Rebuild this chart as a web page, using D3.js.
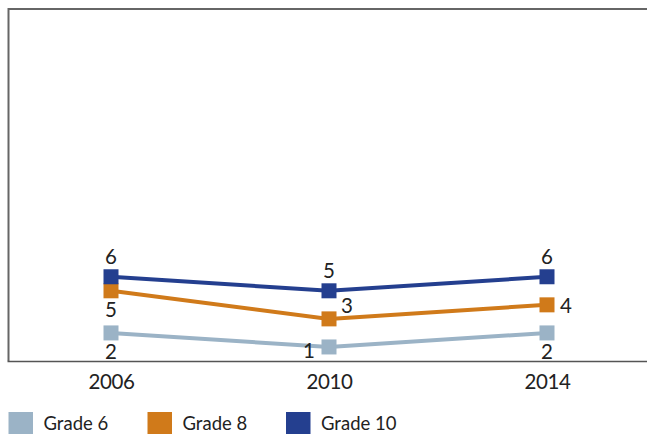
<!DOCTYPE html>
<html>
<head>
<meta charset="utf-8">
<script src="https://cdn.jsdelivr.net/npm/d3@7"></script>
<style>
  html, body { margin: 0; padding: 0; background: #fff; }
  svg { display: block; }
  text { font-family: Lato, "Open Sans", sans-serif; fill: #222; }
</style>
</head>
<body>
<svg id="chart" width="647" height="434"></svg>
<script>
// Survey years along the x axis
const years = ["2006", "2010", "2014"];
// Series per grade
const grade6 = [2, 1, 2];
const grade8 = [5, 3, 4];
const grade10 = [6, 5, 6];
const seriesNames = ["Grade 6", "Grade 8", "Grade 10"];
const seriesColors = ["#9bb3c6", "#d07a1a", "#243f8f"];
// Where each point's value label sits relative to its marker
const labelPos = [
  ["below", "belowLeft", "below"],
  ["below", "aboveRight", "right"],
  ["above", "above", "above"]
];

const series = [grade6, grade8, grade10].map((vals, i) => ({
  name: seriesNames[i], color: seriesColors[i], values: vals, pos: labelPos[i]
}));

const svg = d3.select("#chart");
const plot = { left: 8.5, top: 10, right: 647, bottom: 361 };
const labelFont = 20.5;

const x = d3.scalePoint().domain(years).range([111, 547]);
const y = d3.scaleLinear().domain([0, 25]).range([plot.bottom, plot.top]);

// Frame: left and top borders
svg.append("line").attr("x1", plot.left).attr("x2", plot.left)
  .attr("y1", plot.top).attr("y2", plot.bottom)
  .attr("stroke", "#666").attr("stroke-width", 2);
svg.append("line").attr("x1", plot.left - 1).attr("x2", plot.right)
  .attr("y1", plot.top - 1).attr("y2", plot.top - 1)
  .attr("stroke", "#666").attr("stroke-width", 2);

// X axis with year labels, no tick marks
const xAxis = svg.append("g").attr("transform", `translate(0,${plot.bottom})`)
  .call(d3.axisBottom(x).tickSize(0).tickPadding(13));
xAxis.select(".domain").remove();
xAxis.selectAll("text").attr("font-size", labelFont).attr("letter-spacing", -0.4)
  .style("font-family", "Lato, 'Open Sans', sans-serif").attr("fill", "#222");
svg.append("line").attr("x1", plot.left - 1).attr("x2", plot.right)
  .attr("y1", plot.bottom + 0.5).attr("y2", plot.bottom + 0.5)
  .attr("stroke", "#555").attr("stroke-width", 1.5);

const line = d3.line().x((d, i) => x(years[i])).y(d => y(d));

const g = svg.append("g");
series.forEach(s => {
  g.append("path").datum(s.values).attr("d", line)
    .attr("fill", "none").attr("stroke", s.color).attr("stroke-width", 4);
});
series.forEach(s => {
  const ms = 15;
  g.selectAll(null).data(s.values).join("rect")
    .attr("x", (d, i) => x(years[i]) - ms / 2)
    .attr("y", d => y(d) - ms / 2)
    .attr("width", ms).attr("height", ms)
    .attr("fill", s.color);
  g.selectAll(null).data(s.values).join("text")
    .attr("font-size", labelFont)
    .attr("text-anchor", (d, i) => s.pos[i] === "right" || s.pos[i] === "aboveRight" ? "start"
      : s.pos[i] === "belowLeft" ? "end" : "middle")
    .attr("x", (d, i) => {
      const cx = x(years[i]);
      if (s.pos[i] === "right") return cx + 13;
      if (s.pos[i] === "aboveRight") return cx + 12;
      if (s.pos[i] === "belowLeft") return cx - 14;
      return cx;
    })
    .attr("y", (d, i) => {
      const cy = y(d);
      if (s.pos[i] === "above") return cy - 13;
      if (s.pos[i] === "below") return cy + 26;
      if (s.pos[i] === "aboveRight") return cy - 6;
      if (s.pos[i] === "belowLeft") return cy + 11;
      return cy + 8;
    })
    .text(d => d);
});

// Legend
const legendX = [8.5, 147.5, 286];
const leg = svg.append("g");
series.forEach((s, i) => {
  leg.append("rect").attr("x", legendX[i]).attr("y", 412)
    .attr("width", 24.5).attr("height", 22).attr("fill", s.color);
  leg.append("text").attr("x", legendX[i] + 35).attr("y", 429.5)
    .attr("font-size", 18.5).text(s.name);
});
</script>
</body>
</html>
